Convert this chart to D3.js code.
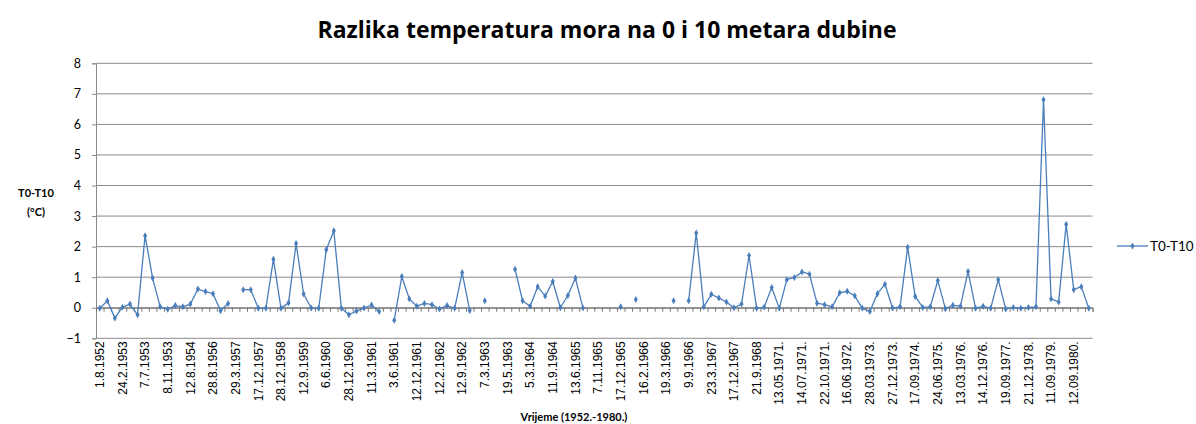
<!DOCTYPE html>
<html>
<head>
<meta charset="utf-8">
<script src="https://cdn.jsdelivr.net/npm/d3@7"></script>
<style>
  body { margin: 0; background: #fff; }
  svg { display: block; }
</style>
</head>
<body>
<div id="main"></div>
<script>
// T0-T10 per measurement, null where no value was recorded
const values = [
  -0.02, 0.23, -0.34, 0.02, 0.12, -0.23, 2.36, 0.97, 0.03, -0.05,
  0.07, 0.03, 0.12, 0.61, 0.53, 0.46, -0.10, 0.14, null, 0.59,
  0.59, -0.02, -0.02, 1.59, -0.02, 0.16, 2.10, 0.45, -0.01, -0.02,
  1.90, 2.52, -0.02, -0.23, -0.11, -0.01, 0.09, -0.12, null, -0.41,
  1.02, 0.29, 0.05, 0.14, 0.10, -0.04, 0.07, -0.02, 1.15, -0.09,
  null, 0.23, null, null, null, 1.26, 0.23, 0.05, 0.69, 0.38,
  0.86, 0.00, 0.40, 0.97, -0.01, null, null, null, null, 0.03,
  null, 0.27, null, null, null, null, 0.23, null, 0.23, 2.45,
  0.03, 0.44, 0.32, 0.19, 0.00, 0.12, 1.71, -0.02, 0.02, 0.66,
  -0.02, 0.92, 0.99, 1.17, 1.10, 0.15, 0.10, 0.03, 0.49, 0.54,
  0.39, -0.02, -0.12, 0.46, 0.77, -0.01, 0.03, 1.98, 0.37, 0.01,
  0.03, 0.89, -0.03, 0.08, 0.05, 1.19, -0.02, 0.05, -0.02, 0.92,
  -0.04, 0.01, -0.02, 0.01, 0.03, 6.81, 0.29, 0.19, 2.73, 0.59,
  0.69, -0.02
];

// every third category carries a label
const tickLabels = [
  "1.8.1952", "24.2.1953", "7.7.1953", "8.11.1953", "12.8.1954", "28.8.1956",
  "29.3.1957", "17.12.1957", "28.12.1958", "12.9.1959", "6.6.1960", "28.12.1960",
  "11.3.1961", "3.6.1961", "12.12.1961", "12.2.1962", "12.9.1962", "7.3.1963",
  "19.5.1963", "5.3.1964", "11.9.1964", "13.6.1965", "7.11.1965", "17.12.1965",
  "16.2.1966", "19.3.1966", "9.9.1966", "23.3.1967", "17.12.1967", "21.9.1968",
  "13.05.1971.", "14.07.1971.", "22.10.1971.", "16.06.1972.", "28.03.1973.", "27.12.1973.",
  "17.09.1974.", "24.06.1975.", "13.03.1976.", "14.12.1976.", "19.09.1977.", "21.12.1978.",
  "11.09.1979.", "12.09.1980."
];
const labelStep = 3;
const yTicks = [-1, 0, 1, 2, 3, 4, 5, 6, 7, 8];

const width = 1196;
const height = 424;
const plotLeft = 96, plotRight = 1092.6, plotTop = 63.3, plotBottom = 338.3;
const blue = "#4a7ebb";
const gridColor = "#8a8a8a";
const calibri = "Lato, 'Open Sans', sans-serif";

const svg = d3.select("#main")
    .append("svg")
    .attr("width", width)
    .attr("height", height);

const x = d3.scaleBand()
    .domain(d3.range(values.length))
    .range([plotLeft, plotRight]);
const xc = i => x(i) + x.bandwidth() / 2;

// boundaries between categories, for the tick marks
const xEdge = d3.scaleLinear()
    .domain([0, values.length])
    .range([plotLeft, plotRight]);

const y = d3.scaleLinear()
    .domain([d3.min(yTicks), d3.max(yTicks)])
    .range([plotBottom, plotTop]);

// title, sized to the width it has in the original
const title = svg.append("text")
    .attr("x", 607)
    .attr("y", 38)
    .attr("text-anchor", "middle")
    .style("font-family", "'Open Sans', Lato, sans-serif")
    .style("font-weight", "bold")
    .style("font-size", "20px")
    .text("Razlika temperatura mora na 0 i 10 metara dubine");
const titleLen = title.node().getComputedTextLength();
title.style("font-size", (20 * 579 / titleLen).toFixed(2) + "px");

// gridlines
svg.append("g")
    .selectAll("line")
    .data(yTicks)
    .join("line")
    .attr("x1", plotLeft)
    .attr("x2", plotRight)
    .attr("y1", d => y(d))
    .attr("y2", d => y(d))
    .attr("stroke", gridColor)
    .attr("stroke-width", 1);

// y axis
const yAxis = svg.append("g")
    .attr("transform", `translate(${plotLeft},0)`)
    .call(d3.axisLeft(y).tickValues(yTicks).tickSize(4).tickPadding(11));
yAxis.select(".domain").attr("stroke", gridColor);
yAxis.selectAll(".tick line").attr("stroke", gridColor);
yAxis.selectAll("text")
    .style("font-family", calibri)
    .style("font-size", "12.5px")
    .attr("fill", "#000");

// category axis crossing at 0, tick marks between categories
const xTicks = svg.append("g")
    .attr("transform", `translate(0,${y(0)})`)
    .call(d3.axisBottom(xEdge)
        .tickValues(d3.range(0, values.length + 1))
        .tickSize(4)
        .tickFormat(""));
xTicks.select(".domain").attr("stroke", "#777");
xTicks.selectAll(".tick line").attr("stroke", "#777");

// labels sit below the plot area
const xLabels = svg.append("g")
    .attr("transform", `translate(0,${plotBottom})`)
    .call(d3.axisBottom(x)
        .tickValues(d3.range(0, values.length, labelStep))
        .tickSize(0)
        .tickFormat(i => tickLabels[i / labelStep]));
xLabels.select(".domain").remove();
xLabels.selectAll("text")
    .attr("transform", "rotate(-90)")
    .attr("text-anchor", "end")
    .attr("x", -3)
    .attr("y", 0)
    .attr("dy", "0.35em")
    .attr("fill", "#000")
    .style("font-family", "'Liberation Sans', Arial, sans-serif")
    .style("font-size", "12px");

// axis titles
svg.append("text")
    .attr("x", 574)
    .attr("y", 421)
    .attr("text-anchor", "middle")
    .style("font-family", calibri)
    .style("font-weight", "bold")
    .style("font-size", "11px")
    .text("Vrijeme (1952.-1980.)");

const yTitle = svg.append("text")
    .attr("text-anchor", "middle")
    .style("font-family", calibri)
    .style("font-weight", "bold")
    .style("font-size", "11px");
yTitle.append("tspan").attr("x", 36).attr("y", 197).text("T0-T10");
yTitle.append("tspan").attr("x", 36).attr("y", 216).text("(°C)");

// series
const line = d3.line()
    .defined(d => d !== null)
    .x((d, i) => xc(i))
    .y(d => y(d));

svg.append("path")
    .datum(values)
    .attr("fill", "none")
    .attr("stroke", blue)
    .attr("stroke-width", 1.3)
    .attr("stroke-linejoin", "round")
    .attr("d", line);

const marker = d3.symbol().type(d3.symbolDiamond).size(14);
svg.append("g")
    .selectAll("path")
    .data(values.map((v, i) => ({ v, i })).filter(d => d.v !== null))
    .join("path")
    .attr("d", marker)
    .attr("transform", d => `translate(${xc(d.i)},${y(d.v)})`)
    .attr("fill", blue);

// legend
const legend = svg.append("g").attr("transform", "translate(1117,246)");
legend.append("line")
    .attr("x1", 0)
    .attr("x2", 31)
    .attr("stroke", blue)
    .attr("stroke-width", 1.3);
legend.append("path")
    .attr("d", marker)
    .attr("transform", "translate(15.5,0)")
    .attr("fill", blue);
legend.append("text")
    .attr("x", 33)
    .attr("dy", "0.35em")
    .style("font-family", calibri)
    .style("font-size", "13.5px")
    .text("T0-T10");
</script>
</body>
</html>
